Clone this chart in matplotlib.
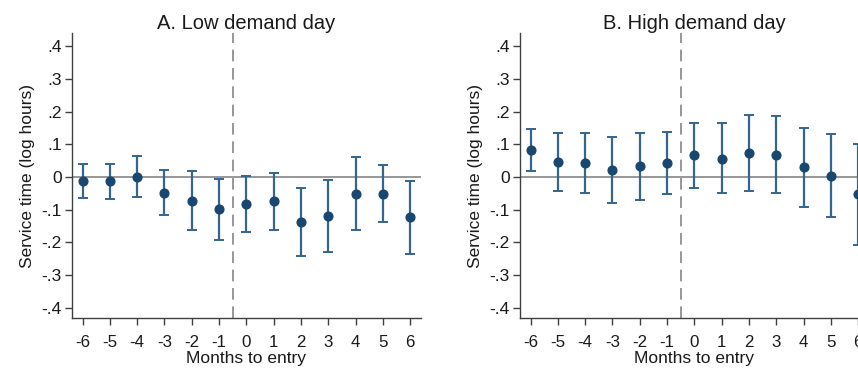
import matplotlib
matplotlib.use("Agg")
import matplotlib.pyplot as plt
import numpy as np

plt.rcParams["font.family"] = ["Liberation Sans", "DejaVu Sans"]

months = [-6, -5, -4, -3, -2, -1, 0, 1, 2, 3, 4, 5, 6]
ytick_vals = [-0.4, -0.3, -0.2, -0.1, 0.0, 0.1, 0.2, 0.3, 0.4]
ytick_labels = ["-.4", "-.3", "-.2", "-.1", "0", ".1", ".2", ".3", ".4"]

low_coef = [-0.013, -0.013, 0.000, -0.049, -0.074, -0.099, -0.083, -0.074, -0.137, -0.119, -0.053, -0.051, -0.123]
low_hi = [0.039, 0.041, 0.063, 0.020, 0.018, -0.005, 0.004, 0.013, -0.033, -0.010, 0.061, 0.037, -0.013]
low_lo = [-0.064, -0.068, -0.061, -0.117, -0.163, -0.192, -0.168, -0.161, -0.243, -0.228, -0.163, -0.138, -0.235]

high_coef = [0.082, 0.045, 0.043, 0.020, 0.033, 0.042, 0.066, 0.056, 0.073, 0.067, 0.029, 0.002, -0.051]
high_hi = [0.146, 0.133, 0.135, 0.123, 0.133, 0.138, 0.166, 0.164, 0.189, 0.185, 0.151, 0.130, 0.102]
high_lo = [0.017, -0.043, -0.049, -0.081, -0.070, -0.053, -0.034, -0.049, -0.042, -0.049, -0.092, -0.123, -0.207]

panels = [
    ("A. Low demand day", low_coef, low_lo, low_hi),
    ("B. High demand day", high_coef, high_lo, high_hi),
]

W, H = 858, 370
fig = plt.figure(figsize=(W / 100, H / 100), dpi=100)

# second panel runs past the right edge, as in the reference crop
lefts = [71.7 / W, 519.7 / W]
for left, (title, coef, lo, hi) in zip(lefts, panels):
    ax = fig.add_axes([left, 52 / H, 349.3 / W, 285 / H])
    coef = np.array(coef)
    err = np.vstack([coef - np.array(lo), np.array(hi) - coef])
    ax.axhline(0, color="#858585", lw=1.2, zorder=1)
    ax.axvline(-0.5, color="#858585", lw=1.2, ls=(0, (7, 4)), zorder=1)
    ax.errorbar(months, coef, yerr=err, fmt="o", color="#1a476f", ms=6.3,
                ecolor="#34658f", elinewidth=1.6, capsize=3.5, capthick=1.4, zorder=3)
    ax.set_xlim(-6.4, 6.4)
    ax.set_ylim(-0.431, 0.44)
    ax.set_xticks(months)
    ax.set_xticklabels([str(m) for m in months])
    ax.set_yticks(ytick_vals)
    ax.set_yticklabels(ytick_labels)
    for s in ["top", "right"]:
        ax.spines[s].set_visible(False)
    for s in ["left", "bottom"]:
        ax.spines[s].set_color("#404040")
        ax.spines[s].set_linewidth(1.0)
    ax.tick_params(axis="both", colors="#404040", labelcolor="#1a1a1a",
                   length=5, width=1.0, labelsize=12.5, pad=2)
    ax.tick_params(axis="x", pad=7, labelsize=12.2)
    ax.set_xlabel("Months to entry", fontsize=12.5, labelpad=1, color="#1a1a1a")
    ax.set_ylabel("Service time (log hours)", fontsize=12.5, labelpad=5, color="#1a1a1a")
    ax.set_title(title, fontsize=14.5, pad=3, color="#1a1a1a")

fig.savefig("out.png", dpi=100)
